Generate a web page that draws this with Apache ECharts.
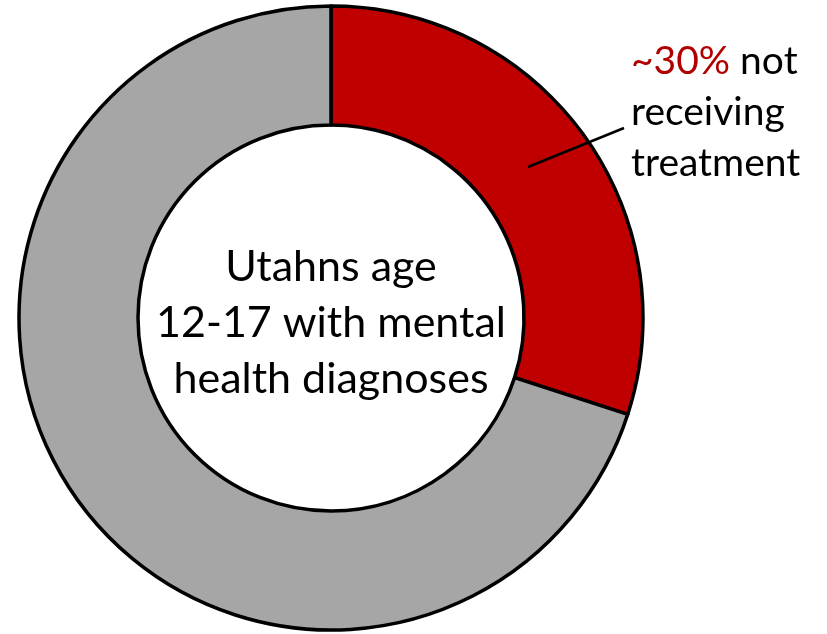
<!DOCTYPE html>
<html>
<head>
<meta charset="utf-8">
<script src="https://cdn.jsdelivr.net/npm/echarts@6/dist/echarts.min.js"></script>
<style>
  html, body { margin: 0; padding: 0; background: #ffffff; }
  #chart { width: 827px; height: 634px; }
</style>
</head>
<body>
<div id="chart"></div>
<script>
// Share of Utah youth (12-17) with mental health diagnoses, by treatment status
const categories = ['Not receiving treatment', 'Receiving treatment'];
const shares = [30, 70];
const sliceColors = ['#C00000', '#A6A6A6'];
const centerLines = ['Utahns age', '12-17 with mental', 'health diagnoses'];
const calloutPct = '~30%';
const calloutLines = ['not', 'receiving', 'treatment'];

const chart = echarts.init(document.getElementById('chart'), null, { renderer: 'canvas' });

const font = 'Lato, "Open Sans", sans-serif';

chart.setOption({
  animation: false,
  backgroundColor: '#ffffff',
  series: [{
    type: 'pie',
    center: [331, 318],
    radius: [193, 312],
    startAngle: 90,
    clockwise: true,
    silent: true,
    z: 1,
    label: { show: false },
    labelLine: { show: false },
    itemStyle: { borderColor: '#000000', borderWidth: 3.5 },
    data: categories.map((name, i) => ({
      name,
      value: shares[i],
      itemStyle: { color: sliceColors[i] }
    }))
  }],
  graphic: [
    {
      type: 'text',
      z: 100,
      x: 331,
      y: 323,
      style: {
        text: centerLines.join('\n'),
        font: '43px ' + font,
        fill: '#000000',
        align: 'center',
        verticalAlign: 'middle',
        lineHeight: 56
      }
    },
    {
      type: 'line',
      z: 100,
      shape: { x1: 528, y1: 167, x2: 624, y2: 128 },
      style: { stroke: '#000000', lineWidth: 2.5 }
    },
    {
      type: 'text',
      z: 100,
      x: 631,
      y: 112,
      style: {
        text: '{p|' + calloutPct + '} ' + calloutLines[0] + '\n' + calloutLines.slice(1).join('\n'),
        font: '39px ' + font,
        fill: '#000000',
        align: 'left',
        verticalAlign: 'middle',
        lineHeight: 51,
        rich: {
          p: { fill: '#B00000', font: '39px ' + font, lineHeight: 51 }
        }
      }
    }
  ]
});
</script>
</body>
</html>
